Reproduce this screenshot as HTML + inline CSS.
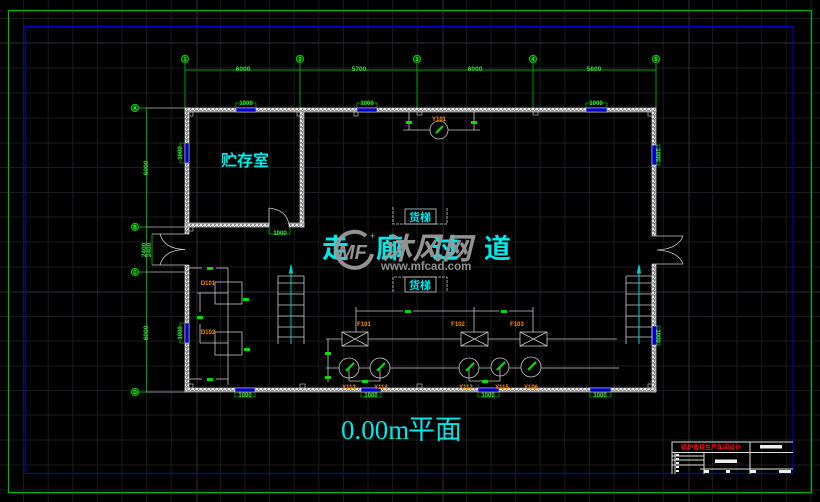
<!DOCTYPE html>
<html><head><meta charset="utf-8"><style>
html,body{margin:0;padding:0;background:#000;}
svg{display:block;}
</style></head><body>
<svg width="820" height="502" viewBox="0 0 820 502" xmlns="http://www.w3.org/2000/svg" font-family="Liberation Sans, 'Noto Sans CJK SC', sans-serif">
<defs>
<pattern id="h" width="4" height="4" patternUnits="userSpaceOnUse">
<rect width="4" height="4" fill="#8a8a8a"/><rect x="0" y="0" width="2" height="2" fill="#e6e6e6"/><rect x="2" y="2" width="1" height="1" fill="#fff"/><rect x="3" y="1" width="1" height="1" fill="#ccc"/>
</pattern>
</defs>
<rect width="820" height="502" fill="#000"/>
<!-- grid -->
<g stroke="#1b1b22" stroke-width="1">
<line x1="23.6" y1="0" x2="23.6" y2="502"/><line x1="48.2" y1="0" x2="48.2" y2="502"/><line x1="72.8" y1="0" x2="72.8" y2="502"/><line x1="97.4" y1="0" x2="97.4" y2="502"/><line x1="122" y1="0" x2="122" y2="502"/><line x1="146.6" y1="0" x2="146.6" y2="502"/><line x1="171.2" y1="0" x2="171.2" y2="502"/><line x1="220.4" y1="0" x2="220.4" y2="502"/><line x1="245" y1="0" x2="245" y2="502"/><line x1="269.6" y1="0" x2="269.6" y2="502"/><line x1="294.2" y1="0" x2="294.2" y2="502"/><line x1="318.8" y1="0" x2="318.8" y2="502"/><line x1="343.4" y1="0" x2="343.4" y2="502"/><line x1="368" y1="0" x2="368" y2="502"/><line x1="392.6" y1="0" x2="392.6" y2="502"/><line x1="417.2" y1="0" x2="417.2" y2="502"/><line x1="466.4" y1="0" x2="466.4" y2="502"/><line x1="491" y1="0" x2="491" y2="502"/><line x1="515.6" y1="0" x2="515.6" y2="502"/><line x1="540.2" y1="0" x2="540.2" y2="502"/><line x1="564.8" y1="0" x2="564.8" y2="502"/><line x1="589.4" y1="0" x2="589.4" y2="502"/><line x1="614" y1="0" x2="614" y2="502"/><line x1="638.6" y1="0" x2="638.6" y2="502"/><line x1="663.2" y1="0" x2="663.2" y2="502"/><line x1="712.4" y1="0" x2="712.4" y2="502"/><line x1="737" y1="0" x2="737" y2="502"/><line x1="761.6" y1="0" x2="761.6" y2="502"/><line x1="786.2" y1="0" x2="786.2" y2="502"/><line x1="810.8" y1="0" x2="810.8" y2="502"/>
<line x1="0" y1="18.4" x2="820" y2="18.4"/><line x1="0" y1="68" x2="820" y2="68"/><line x1="0" y1="93" x2="820" y2="93"/><line x1="0" y1="118" x2="820" y2="118"/><line x1="0" y1="143" x2="820" y2="143"/><line x1="0" y1="167.5" x2="820" y2="167.5"/><line x1="0" y1="192.5" x2="820" y2="192.5"/><line x1="0" y1="217" x2="820" y2="217"/><line x1="0" y1="242" x2="820" y2="242"/><line x1="0" y1="267" x2="820" y2="267"/><line x1="0" y1="316.5" x2="820" y2="316.5"/><line x1="0" y1="341" x2="820" y2="341"/><line x1="0" y1="366" x2="820" y2="366"/><line x1="0" y1="390.5" x2="820" y2="390.5"/><line x1="0" y1="415" x2="820" y2="415"/><line x1="0" y1="440" x2="820" y2="440"/><line x1="0" y1="465" x2="820" y2="465"/><line x1="0" y1="490" x2="820" y2="490"/>
</g>
<g stroke="#2c2c36" stroke-width="1">
<line x1="197" y1="0" x2="197" y2="502"/><line x1="443" y1="0" x2="443" y2="502"/><line x1="689" y1="0" x2="689" y2="502"/>
<line x1="0" y1="43" x2="820" y2="43"/><line x1="0" y1="292" x2="820" y2="292"/>
</g>
<!-- frames -->
<rect x="8.5" y="10.5" width="803" height="482" fill="none" stroke="#00b400" stroke-width="1.2"/>
<rect x="25.5" y="26.5" width="767.5" height="447" fill="none" stroke="#0000c8" stroke-width="1.2"/>

<!-- dimension / axis lines -->
<g stroke="#00a000" stroke-width="1" fill="none">
<line x1="185" y1="70" x2="656" y2="70"/>
<line x1="185" y1="63" x2="185" y2="108"/><line x1="300" y1="63" x2="300" y2="108"/><line x1="417" y1="63" x2="417" y2="108"/><line x1="533" y1="63" x2="533" y2="108"/><line x1="656" y1="63" x2="656" y2="108"/>
<line x1="146.5" y1="108" x2="146.5" y2="392"/>
<line x1="139" y1="108" x2="146" y2="108"/><line x1="139" y1="227" x2="146" y2="227"/><line x1="139" y1="272" x2="146" y2="272"/><line x1="139" y1="392" x2="146" y2="392"/>
<polyline points="152,234 152,265"/>
</g>
<g stroke="#bbb" stroke-width="0.8">
<line x1="146" y1="108" x2="185" y2="108"/><line x1="146" y1="227" x2="185" y2="227"/><line x1="146" y1="272" x2="185" y2="272"/><line x1="146" y1="392" x2="185" y2="392"/>
</g>
<!-- axis circles -->
<g stroke="#00d000" stroke-width="1" fill="#005000">
<circle cx="185" cy="59" r="3.6"/><circle cx="300" cy="59" r="3.6"/><circle cx="417" cy="59" r="3.6"/><circle cx="533" cy="59" r="3.6"/><circle cx="656" cy="59" r="3.6"/>
<circle cx="135" cy="108" r="3.6"/><circle cx="135" cy="227" r="3.6"/><circle cx="135" cy="272" r="3.6"/><circle cx="135" cy="392" r="3.6"/>
</g>
<g fill="#40ff40" font-size="5" text-anchor="middle" font-weight="bold">
<text x="185" y="61">1</text><text x="300" y="61">2</text><text x="417" y="61">3</text><text x="533" y="61">4</text><text x="656" y="61">5</text>
<text x="135" y="110">A</text><text x="135" y="229">B</text><text x="135" y="274">C</text><text x="135" y="394">D</text>
</g>
<g fill="#30e030" font-size="6.5" text-anchor="middle" font-weight="bold">
<text x="243" y="71">6000</text><text x="359" y="71">5700</text><text x="475" y="71">6000</text><text x="594" y="71">5600</text>
<text transform="translate(146,168) rotate(-90)" y="2">6000</text>
<text transform="translate(146,333) rotate(-90)" y="2">6000</text>
<text transform="translate(146,250) rotate(-90)" y="0">2400</text>
<text transform="translate(151,250) rotate(-90)" y="0">2400</text>
</g>

<!-- walls -->
<g fill="url(#h)" stroke="#e0e0e0" stroke-width="0.6">
<rect x="185" y="108" width="471" height="4"/>
<rect x="185" y="108" width="4" height="126"/>
<rect x="185" y="265" width="4" height="127"/>
<rect x="652" y="108" width="4" height="128"/>
<rect x="652" y="264" width="4" height="128"/>
<rect x="185" y="388" width="471" height="4"/>
<rect x="300" y="108" width="4" height="119"/>
<rect x="185" y="223" width="84" height="4"/>
<rect x="289" y="223" width="15" height="4"/>
</g>
<!-- column squares -->
<g fill="none" stroke="#bbb" stroke-width="0.7">
<rect x="189" y="112" width="4" height="4"/><rect x="297" y="112" width="5" height="4"/><rect x="354" y="112" width="4" height="4"/><rect x="417" y="112" width="5" height="3"/><rect x="533" y="112" width="5" height="3"/><rect x="648" y="112" width="4" height="4"/>
<rect x="189" y="227" width="4" height="4"/><rect x="189" y="384" width="4" height="4"/><rect x="300" y="384" width="5" height="4"/><rect x="417" y="384" width="5" height="4"/><rect x="648" y="384" width="4" height="4"/>
</g>
<!-- windows -->
<g fill="#0000d0" stroke="#ddd" stroke-width="0.5">
<rect x="236" y="108" width="20" height="4"/><rect x="357" y="108" width="20" height="4"/><rect x="586" y="108" width="21" height="4"/>
<rect x="185" y="143" width="4" height="20"/><rect x="185" y="323" width="4" height="20"/>
<rect x="652" y="145" width="5" height="20"/><rect x="652" y="326" width="5" height="19"/>
<rect x="235" y="388" width="20" height="4"/><rect x="361" y="388" width="20" height="4"/><rect x="478" y="388" width="21" height="4"/><rect x="590" y="388" width="21" height="4"/>
</g>
<g stroke="#00b000" stroke-width="0.8" fill="none">
<polyline points="236,108 236,103 256,103 256,108"/><polyline points="357,108 357,103 377,103 377,108"/><polyline points="586,108 586,103 607,103 607,108"/>
<polyline points="185,143 180,143 180,163 185,163"/><polyline points="185,323 180,323 180,343 185,343"/>
<polyline points="657,145 660,145 660,165 657,165"/><polyline points="657,326 660,326 660,345 657,345"/>
<polyline points="235,392 235,397 255,397 255,392"/><polyline points="361,392 361,397 381,397 381,392"/><polyline points="478,392 478,397 499,397 499,392"/><polyline points="590,392 590,397 611,397 611,392"/>
<polyline points="269,227 269,234 290,234 290,227"/>
</g>
<g fill="#30f030" font-size="6" text-anchor="middle" font-weight="bold">
<text x="246" y="105">1000</text><text x="367" y="105">1000</text><text x="596" y="105">1000</text>
<text x="245" y="397">1000</text><text x="371" y="397">1000</text><text x="488" y="397">1000</text><text x="600" y="397">1000</text>
<text x="280" y="235">1000</text>
<text transform="translate(180,153) rotate(-90)" y="2">1000</text>
<text transform="translate(180,333) rotate(-90)" y="2">1000</text>
<text transform="translate(658,155) rotate(90)" y="2">1000</text>
<text transform="translate(658,336) rotate(90)" y="2">1000</text>
</g>
<!-- doors -->
<g stroke="#c8c8c8" stroke-width="0.8" fill="none">
<line x1="152" y1="234" x2="185" y2="234"/><line x1="152" y1="265" x2="185" y2="265"/>
<path d="M160,234 Q164,249 185,249.5"/><path d="M160,265 Q164,250 185,249.5"/>
<line x1="656" y1="236" x2="683" y2="236"/><line x1="656" y1="264" x2="683" y2="264"/>
<path d="M683,236 Q678,249 657,250"/><path d="M683,264 Q678,251 657,250"/>
<line x1="269" y1="208" x2="269" y2="225"/><path d="M269,208 Q287,210 289,225"/>
</g>
<!-- storeroom label -->
<text x="221" y="166" font-size="16" fill="#00e8e8" font-family="'Noto Sans CJK SC', sans-serif" font-weight="bold">贮存室</text>

<!-- goods lifts -->
<g stroke="#cfcfcf" stroke-width="0.8" fill="none">
<polyline points="393,207 393,224 447,224 447,207" stroke-dasharray="3,1"/>
<rect x="405" y="209" width="31" height="15"/>
<polyline points="393,292 393,277 447,277 447,292" stroke-dasharray="3,1"/>
<rect x="405" y="277" width="31" height="15"/>
</g>
<g fill="#00e8e8" font-size="11" font-family="'Noto Sans CJK SC', sans-serif" font-weight="bold" text-anchor="middle">
<text x="420" y="221">货梯</text><text x="420" y="289">货梯</text>
</g>

<!-- stairs -->
<g stroke="#cfcfcf" stroke-width="0.8" fill="none">
<line x1="278" y1="276" x2="278" y2="344"/><line x1="304" y1="276" x2="304" y2="344"/>
<line x1="278" y1="276" x2="304" y2="276"/><line x1="278" y1="283" x2="304" y2="283"/><line x1="278" y1="294" x2="304" y2="294"/><line x1="278" y1="305" x2="304" y2="305"/><line x1="278" y1="316" x2="304" y2="316"/><line x1="278" y1="327" x2="304" y2="327"/><line x1="278" y1="337" x2="304" y2="337"/>
<line x1="626" y1="276" x2="626" y2="344"/><line x1="652" y1="276" x2="652" y2="344"/>
<line x1="626" y1="276" x2="652" y2="276"/><line x1="626" y1="283" x2="652" y2="283"/><line x1="626" y1="294" x2="652" y2="294"/><line x1="626" y1="305" x2="652" y2="305"/><line x1="626" y1="316" x2="652" y2="316"/><line x1="626" y1="327" x2="652" y2="327"/><line x1="626" y1="337" x2="652" y2="337"/>
</g>
<g stroke="#00c8c8" stroke-width="1" fill="#00e0e0">
<line x1="291" y1="268" x2="291" y2="344"/><polygon points="289.5,273 291,265 292.5,273"/>
<line x1="639" y1="268" x2="639" y2="344"/><polygon points="637.5,273 639,265 640.5,273"/>
</g>

<!-- left equipment -->
<g stroke="#c8c8c8" stroke-width="0.8" fill="none">
<line x1="189" y1="268" x2="202" y2="268"/><line x1="216" y1="268" x2="228" y2="268"/>
<line x1="228" y1="268" x2="228" y2="385"/>
<line x1="189" y1="379" x2="202" y2="379"/><line x1="216" y1="379" x2="228" y2="379"/>
<rect x="215" y="282" width="27" height="22"/>
<line x1="197" y1="293" x2="228" y2="293"/><line x1="200" y1="293" x2="200" y2="312"/>
<line x1="200" y1="324" x2="200" y2="343"/><line x1="200" y1="343" x2="228" y2="343"/>
<rect x="215" y="332" width="27" height="23"/>
</g>
<g fill="#00e000">
<rect x="207" y="267" width="6" height="3"/><rect x="207" y="378" width="6" height="3"/>
<rect x="243" y="298" width="6" height="3"/><rect x="197" y="316" width="6" height="3"/><rect x="244" y="348" width="6" height="3"/>
</g>

<!-- right equipment -->
<g stroke="#c8c8c8" stroke-width="0.8" fill="none">
<line x1="356" y1="307" x2="356" y2="339"/>
<line x1="356" y1="311" x2="403" y2="311"/><line x1="413" y1="311" x2="499" y2="311"/><line x1="509" y1="311" x2="533" y2="311"/>
<line x1="474" y1="307" x2="474" y2="339"/><line x1="533" y1="307" x2="533" y2="339"/>
<line x1="326" y1="339" x2="617" y2="339"/>
<line x1="328" y1="339" x2="328" y2="382"/>
<line x1="326" y1="368" x2="619" y2="368"/>
<rect x="342" y="332" width="26" height="14" fill="#000"/><path d="M342,332 L368,346 M368,332 L342,346"/>
<rect x="461" y="332" width="27" height="14" fill="#000"/><path d="M461,332 L488,346 M488,332 L461,346"/>
<rect x="520" y="332" width="27" height="14" fill="#000"/><path d="M520,332 L547,346 M547,332 L520,346"/>
<circle cx="349" cy="368" r="10" fill="#000"/><circle cx="380" cy="368" r="10" fill="#000"/><circle cx="469" cy="368" r="10" fill="#000"/><circle cx="500" cy="367" r="9" fill="#000"/><circle cx="531" cy="367" r="10" fill="#000"/>
<line x1="349" y1="368" x2="349" y2="381"/><line x1="349" y1="381" x2="380" y2="381"/><line x1="380" y1="368" x2="380" y2="381"/>
<line x1="469" y1="368" x2="469" y2="381"/><line x1="469" y1="381" x2="500" y2="381"/><line x1="500" y1="368" x2="500" y2="381"/>
<line x1="403" y1="130" x2="480" y2="130"/><line x1="409" y1="112" x2="409" y2="130"/><line x1="474" y1="112" x2="474" y2="130"/>
<circle cx="439" cy="130" r="9" fill="#000"/>
</g>
<g stroke="#00e000" stroke-width="2.2">
<line x1="346" y1="371" x2="354" y2="363"/><line x1="377" y1="371" x2="385" y2="363"/><line x1="466" y1="371" x2="474" y2="363"/><line x1="497" y1="370" x2="505" y2="362"/><line x1="528" y1="370" x2="536" y2="362"/>
<line x1="436" y1="133" x2="443" y2="126"/>
</g>
<g fill="#00e000">
<rect x="325" y="352" width="6" height="3"/><rect x="325" y="376" width="6" height="3"/>
<rect x="405" y="310" width="6" height="3"/><rect x="501" y="310" width="6" height="3"/>
<rect x="362" y="380" width="6" height="3"/><rect x="482" y="380" width="6" height="3"/>
<rect x="406" y="121" width="6" height="3"/><rect x="471" y="121" width="6" height="3"/>
</g>
<g fill="#ff8c00" font-size="6" font-weight="bold" text-anchor="middle">
<text x="208" y="285">D101</text><text x="208" y="334">D102</text>
<text x="364" y="326">F101</text><text x="458" y="326">F102</text><text x="517" y="326">F103</text>
<text x="349" y="389">Y113</text><text x="381" y="389">Y114</text><text x="466" y="389">Y112</text><text x="502" y="389">Y115</text><text x="531" y="389">Y106</text>
<text x="439" y="121">Y101</text>
</g>

<!-- corridor text -->
<g fill="#00e8e8" font-size="27" font-family="'Noto Sans CJK SC', sans-serif" font-weight="bold">
<text x="322" y="258">走</text><text x="376" y="258">廊</text><text x="432" y="258">过</text><text x="484" y="258">道</text>
</g>
<!-- watermark -->
<g fill="#9a9a9a" opacity="0.95">
<path d="M366,236 A18,18 0 1 0 372,254" fill="none" stroke="#9a9a9a" stroke-width="4"/>
<text x="338" y="259" font-size="20" font-weight="bold" font-style="italic" font-family="'Liberation Sans', sans-serif">MF</text>
<text x="370" y="239" font-size="9" fill="#bbb">+</text>
<text x="382" y="259" font-size="30" font-weight="bold" font-style="italic" font-family="'Noto Sans CJK SC', sans-serif">沐风网</text>
<text x="381" y="270" font-size="11.5" font-weight="bold" font-family="'Liberation Sans', sans-serif">www.mfcad.com</text>
</g>

<!-- title -->
<text x="341" y="439" font-size="27" fill="#00e8e8" font-family="'Liberation Serif', 'Noto Serif CJK SC', serif">0.00m</text>
<text x="408" y="439" font-size="27" fill="#00e8e8" font-family="'Noto Sans CJK SC', sans-serif">平面</text>

<!-- title block -->
<g stroke="#e0e0e0" stroke-width="1" fill="none">
<polyline points="672,474 672,442 793,442"/>
<line x1="750" y1="442" x2="750" y2="474"/>
<line x1="672" y1="452.5" x2="793" y2="452.5"/>
<line x1="704" y1="452" x2="704" y2="474"/>
<line x1="700" y1="469" x2="793" y2="469"/>
<line x1="672" y1="456" x2="704" y2="456"/><line x1="672" y1="460" x2="704" y2="460"/><line x1="672" y1="465" x2="704" y2="465"/>
<line x1="675" y1="452" x2="675" y2="474"/>
</g>
<g fill="#f0f0f0">
<rect x="760" y="445" width="22" height="3.5"/><rect x="715" y="459.5" width="22" height="3.5"/>
<rect x="676" y="454" width="3" height="2"/><rect x="676" y="458" width="3" height="2"/><rect x="676" y="462" width="3" height="2"/><rect x="676" y="466" width="3" height="2"/><rect x="676" y="470" width="3" height="2"/>
<rect x="704" y="470" width="5" height="3"/><rect x="726" y="470" width="4" height="3"/><rect x="750" y="470" width="6" height="3"/><rect x="779" y="470" width="12" height="3"/>
</g>
<text x="711" y="449.5" font-size="6" fill="#ff1010" font-weight="bold" text-anchor="middle" font-family="'Noto Sans CJK SC', sans-serif">锅炉香精生产车间设计</text>
</svg>
</body></html>
